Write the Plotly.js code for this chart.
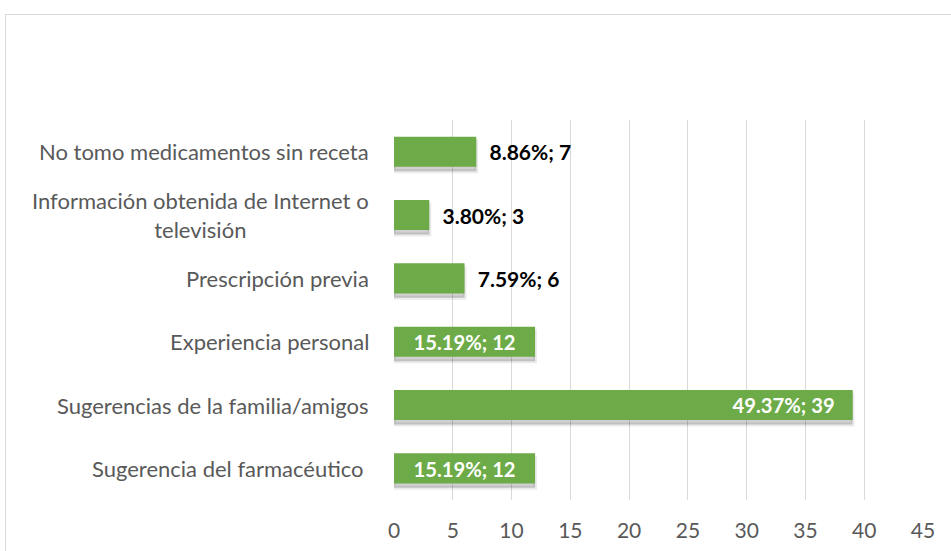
<!DOCTYPE html>
<html>
<head>
<meta charset="utf-8">
<script src="https://cdn.plot.ly/plotly-3.0.1.min.js"></script>
<style>
  html, body { margin:0; padding:0; background:#fff; overflow:hidden; }
  #frame { position:absolute; left:5px; top:14px; width:1000px; height:600px; border:1px solid #d9d9d9; box-sizing:border-box; }
  #chart { position:absolute; left:0; top:0; width:951px; height:551px; }
</style>
</head>
<body>
<div id="frame"></div>
<div id="chart"></div>
<script>
// Categories listed bottom to top
const categories = [
  "Sugerencia del farmacéutico\u00a0",
  "Sugerencias de la familia/amigos",
  "Experiencia personal",
  "Prescripción previa",
  "Información obtenida de Internet o<br>televisión",
  "No tomo medicamentos sin receta"
];
const counts = [12, 39, 12, 6, 3, 7];
const percents = [15.19, 49.37, 15.19, 7.59, 3.80, 8.86];
const labelPlacement = ["middle", "end", "middle", "outside", "outside", "outside"];
const xTicks = [0, 5, 10, 15, 20, 25, 30, 35, 40, 45];

const PAD_OUT = "\u00a0\u00a0";
const PAD_END = "\u00a0\u00a0\u00a0";
const labels = counts.map((c, i) => percents[i].toFixed(2) + "%; " + c);
const FONT = "Lato, 'Open Sans', sans-serif";
const GREEN = "#6cab47";
const BW = 0.475;

const shadow = {
  type: "bar", orientation: "h", y: categories, x: counts,
  width: BW, offset: -BW / 2 - 0.07,
  marker: { color: "rgba(0,0,0,0.18)", line: { color: "rgba(0,0,0,0.08)", width: 4 } },
  hoverinfo: "skip", showlegend: false
};

const main = {
  type: "bar", orientation: "h", y: categories, x: counts,
  width: BW,
  marker: { color: GREEN, line: { width: 0 } },
  text: labels.map((t, i) => labelPlacement[i] === "end" ? "" : (labelPlacement[i] === "outside" ? PAD_OUT + t : t)),
  textposition: labelPlacement.map(p => p === "outside" ? "outside" : "inside"),
  insidetextanchor: "middle",
  insidetextfont: { family: FONT, size: 21, color: "#ffffff", weight: "bold" },
  outsidetextfont: { family: FONT, size: 21, color: "#000000", weight: "bold" },
  textangle: 0, cliponaxis: false,
  showlegend: false
};

const endLabels = {
  type: "bar", orientation: "h", y: categories,
  x: counts.map((c, i) => labelPlacement[i] === "end" ? c : null),
  width: BW,
  marker: { color: GREEN, line: { width: 0 } },
  text: labels.map((t, i) => labelPlacement[i] === "end" ? t + PAD_END : ""),
  textposition: "inside",
  insidetextanchor: "end",
  insidetextfont: { family: FONT, size: 21, color: "#ffffff", weight: "bold" },
  textangle: 0,
  showlegend: false
};

const annotations = categories.map(c => ({
  xref: "paper", yref: "y", x: 0, y: c, xanchor: "right", yanchor: "middle",
  xshift: -23, align: "center", showarrow: false, text: c,
  font: { family: FONT, size: 22, color: "#595959" }
}));

const layout = {
  width: 951, height: 551,
  margin: { l: 394, r: 28, t: 120, b: 51 },
  paper_bgcolor: "rgba(0,0,0,0)",
  plot_bgcolor: "rgba(0,0,0,0)",
  barmode: "overlay",
  showlegend: false,
  xaxis: {
    range: [0, 45], tickvals: xTicks, ticktext: xTicks.map(String),
    showgrid: true, gridcolor: "#d9d9d9", gridwidth: 1,
    zeroline: false, showline: false, ticks: "",
    ticklabelstandoff: 16,
    tickfont: { family: FONT, size: 21, color: "#595959" },
    fixedrange: true
  },
  yaxis: {
    type: "category", categoryorder: "array", categoryarray: categories,
    showticklabels: false, showgrid: false, zeroline: false, showline: false, ticks: "",
    fixedrange: true
  },
  annotations: annotations,
  font: { family: FONT }
};

Plotly.newPlot("chart", [shadow, main, endLabels], layout, { displayModeBar: false, staticPlot: true });
</script>
</body>
</html>
